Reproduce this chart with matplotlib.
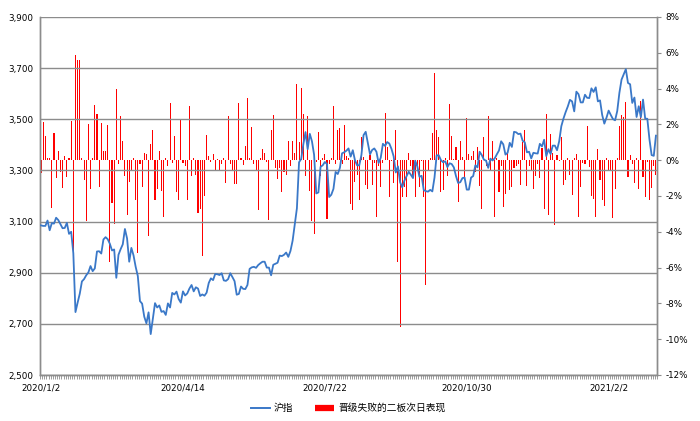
import matplotlib
matplotlib.use("Agg")
import matplotlib.pyplot as plt
from matplotlib.lines import Line2D
import numpy as np

# ---------------- data ----------------
tick_labels = ["2020/1/2", "2020/4/14", "2020/7/22", "2020/10/30", "2021/2/2"]
tick_index = [0, 66, 132, 198, 264]

sh_index = [
    # 2020 Jan
    3085, 3083, 3083, 3104, 3066, 3094, 3092, 3115, 3106, 3090, 3074, 3075, 3095, 3052, 3060, 2976,
    # Feb
    2746, 2783, 2818, 2866, 2875, 2890, 2901, 2926, 2906, 2917, 2983, 2984, 2975, 3030, 3039, 3031, 3013, 2987, 2991, 2880,
    # Mar
    2970, 2992, 3011, 3071, 3034, 2943, 2997, 2968, 2923, 2887, 2789, 2779, 2728, 2702, 2745, 2660, 2722, 2781, 2764, 2772, 2747, 2750,
    # Apr
    2735, 2780, 2764, 2821, 2815, 2826, 2797, 2783, 2827, 2811, 2819, 2838, 2852, 2827, 2843, 2838, 2809, 2815, 2810, 2822, 2860,
    # May
    2878, 2871, 2895, 2894, 2891, 2898, 2870, 2868, 2875, 2898, 2883, 2867, 2814, 2817, 2846, 2837, 2836, 2852,
    # Jun
    2915, 2921, 2923, 2919, 2930, 2937, 2943, 2943, 2920, 2920, 2890, 2931, 2935, 2939, 2967, 2965, 2970, 2979, 2962, 2985,
    # Jul
    3025, 3090, 3152, 3332, 3345, 3403, 3450, 3383, 3443, 3414, 3361, 3210, 3214, 3314, 3320, 3333, 3325, 3196, 3205, 3228, 3294, 3286, 3310,
    # Aug
    3367, 3371, 3377, 3386, 3354, 3379, 3340, 3320, 3320, 3360, 3438, 3451, 3408, 3363, 3380, 3386, 3373, 3329, 3350, 3404, 3396,
    # Sep
    3411, 3405, 3384, 3355, 3292, 3316, 3254, 3234, 3260, 3278, 3295, 3283, 3270, 3338, 3316, 3275, 3279, 3223, 3219, 3217, 3224, 3218,
    # Oct
    3272, 3359, 3359, 3340, 3332, 3336, 3313, 3328, 3325, 3312, 3278, 3251, 3254, 3270, 3272, 3225,
    # Nov
    3225, 3272, 3278, 3320, 3312, 3373, 3360, 3342, 3338, 3310, 3346, 3339, 3347, 3363, 3378, 3414, 3402, 3362, 3369, 3408, 3392,
    # Dec
    3451, 3449, 3442, 3444, 3416, 3410, 3371, 3373, 3347, 3369, 3367, 3366, 3404, 3394, 3420, 3356, 3383, 3364, 3397, 3397, 3379, 3414, 3473,
    # 2021 Jan
    3503, 3528, 3550, 3576, 3570, 3531, 3608, 3598, 3566, 3566, 3596, 3584, 3583, 3621, 3607, 3625, 3570, 3574, 3517, 3483,
    # Feb
    3506, 3534, 3517, 3501, 3496, 3532, 3603, 3655, 3675, 3696, 3642, 3637, 3564, 3585, 3509,
    # Mar
    3551, 3508, 3577, 3503, 3502, 3421, 3360, 3357, 3436,
]

next_day_pct = [
    # days 0-47
    -0.74, 2.15, 1.35, 0.15, 0.15, -2.65, 1.5, -1.0, 0.5, -0.65, -1.55, 0.23, -0.95, 0.1, 2.2, -6.1,
    5.9, 5.6, 5.6, 0.1, -1.1, -3.4, 2.05, -1.6, 0.1, 3.1, 2.6, -1.5, 2.1, 0.5, 0.5, 1.95,
    -5.7, -2.4, -3.55, 4.0, -0.23, 2.45, 1.1, -0.9, -3.05, -1.2, -0.55, 0.15, -2.25, -5.2, -0.2, -1.5,
    # days 48-96
    0.4, 0.33, -4.25, 0.9, 1.7, -2.25, -1.6, 0.5, -1.7, -3.2, 0.1, -0.3, 3.2, -0.15, 1.35, -1.75,
    -2.2, 2.3, -0.15, -0.3, -2.2, 3.0, -0.9, 0.15, -0.8, -2.95, -2.7, -5.35, -2.0, 1.4, 0.23, -0.1,
    0.35, -0.55, 0.05, -0.6, -0.2, 0.1, -1.25, 2.45, -0.2, -0.6, -1.35, -1.35, 3.2, 0.1, -0.25, 0.8, 3.5,
    # days 97-144
    0.1, 1.85, -0.2, -0.55, -2.8, 0.1, 0.6, 0.4, -0.1, -3.35, 1.7, 2.5, -0.45, -1.05, -0.45, -1.8,
    -0.65, -0.8, 1.1, -0.3, 1.1, 0.4, 4.25, 1.0, 4.05, 2.6, -0.9, 2.45, -1.7, -3.4, -4.1, -0.1,
    1.6, -0.9, 0.1, 0.35, -3.3, -0.2, 0.1, 3.0, -0.2, 1.7, 1.8, -0.2, 1.95, 0.23, 0.15, -2.45,
    # days 145-193
    -2.8, -1.2, -0.8, -2.2, 1.3, 0.2, -1.4, -1.6, 0.3, -1.4, -0.15, -3.2, -0.3, -1.5, -0.15, 2.65,
    0.75, -2.05, -0.05, -1.3, 1.7, -5.7, -9.3, -2.05, -1.5, -2.05, 0.4, -0.3, -0.9, -2.05, -0.45, -1.5,
    -0.05, -2.05, -7.0, -0.55, 0.1, 1.5, 4.85, 1.7, 1.3, -1.75, -1.65, 0.1, -0.9, 3.15, 1.35, 0.05, 0.75,
    # days 194-242
    -2.35, 1.1, 0.2, -1.1, 2.35, 0.33, 0.25, 0.5, -0.65, 0.75, -1.45, -2.7, 1.3, -0.35, 2.45, -0.55,
    1.1, -3.15, 0.1, -1.75, -0.35, -2.6, -1.9, 0.4, -1.65, -1.5, -0.45, -0.3, -0.2, -1.4, 1.0, 1.7,
    -1.45, -0.3, -0.6, -1.6, -0.9, -0.2, -1.0, 0.7, -2.7, 2.6, -3.05, 1.45, 0.4, -3.6, 0.3, -0.05, 1.3,
    # days 243-286
    -1.4, -1.1, 0.15, -0.8, -1.95, 0.15, 0.33, -3.2, -1.5, -0.15, -0.2, 1.9, -0.4, -2.0, -2.15, -3.2,
    0.6, -1.1, -2.2, -2.55, 0.15, -0.55, -0.55, -3.25, -1.6, 0.1, 1.9, 2.5, 2.4, 3.25, -0.95, 0.3,
    -0.2, -1.25, 0.1, -1.6, 3.3, -0.95, -2.05, -0.1, -2.25, -1.55, -0.35, -0.8,
]

left_ticks = [2500, 2700, 2900, 3100, 3300, 3500, 3700, 3900]
right_ticks = [-12, -10, -8, -6, -4, -2, 0, 2, 4, 6, 8]

series_line = "沪指"
series_bar = "晋级失败的二板次日表现"

# ---------------- style ----------------
plt.rcParams['font.family'] = ['DejaVu Sans']
grid_c = "#8c8c8c"
blue = "#3a78c8"
red = "#ff0000"

n = len(sh_index)
x = np.arange(n)

fig = plt.figure(figsize=(7.0, 4.21), dpi=100)
ax = fig.add_axes([40 / 700, 1 - 375 / 421, 617 / 700, 358 / 421])  # line axis (left)
axb = ax.twinx()  # bar axis (right)

# bars on secondary axis
axb.bar(x, next_day_pct, width=0.5, color=red, linewidth=0, zorder=2)
axb.set_ylim(-12, 8)
axb.set_yticks(right_ticks)
axb.set_yticklabels([f"{t}%" for t in right_ticks])
axb.tick_params(axis='y', labelsize=6.3, length=3, color=grid_c, pad=3)

# line on primary axis, drawn above bars
ax.set_zorder(axb.get_zorder() + 1)
ax.patch.set_visible(False)
ax.plot(x, sh_index, color=blue, linewidth=1.3, zorder=3)
ax.set_ylim(2500, 3900)
ax.set_yticks(left_ticks)
ax.set_yticklabels([f"{t:,}" for t in left_ticks])
ax.tick_params(axis='y', labelsize=6.3, length=0, pad=5)
ax.yaxis.grid(True, color=grid_c, linewidth=1.0)
ax.set_axisbelow(True)

ax.set_xlim(-0.5, n - 0.5)
ax.set_xticks(tick_index)
ax.set_xticklabels(tick_labels)
ax.set_xticks(np.arange(-0.5, n, 1), minor=True)
ax.tick_params(axis='x', which='major', labelsize=6.3, length=0, pad=6)
ax.tick_params(axis='x', which='minor', length=3, color=grid_c, width=0.6)

for a in (ax, axb):
    a.spines['top'].set_visible(False)
    for s in ('left', 'right', 'bottom'):
        a.spines[s].set_color(grid_c)
        a.spines[s].set_linewidth(1.0)

# legend
handles = [Line2D([0], [0], color=blue, linewidth=1.4),
           Line2D([0], [0], color=red, linewidth=4.5, solid_capstyle='butt')]
fig.legend(handles, [series_line, series_bar], loc='center', ncol=2,
           bbox_to_anchor=(348 / 700, 1 - 408 / 421), frameon=False,
           prop={'family': ['Noto Sans CJK SC', 'DejaVu Sans'], 'size': 7},
           handlelength=2.0, handletextpad=0.4, columnspacing=2.2)

fig.savefig("out.png", dpi=100)
